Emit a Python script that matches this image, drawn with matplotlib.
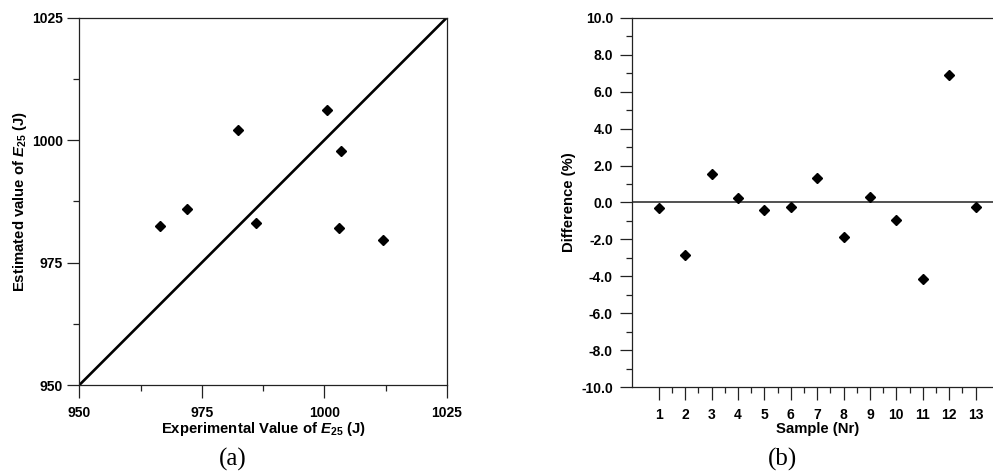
import numpy as np
import matplotlib
matplotlib.use('Agg')
import matplotlib.pyplot as plt
from matplotlib.ticker import MultipleLocator, FixedLocator, FormatStrFormatter

# panel (a): experimental vs estimated E25 (J)
exp_e25 = [966.5, 972.0, 982.4, 986.0, 1000.5, 1003.4, 1003.0, 1011.9]
est_e25 = [982.5, 985.9, 1002.1, 983.0, 1006.2, 997.8, 982.1, 979.6]

# panel (b): difference per sample (%)
samples = list(range(1, 14))
diff_pct = [-0.31, -2.84, 1.54, 0.26, -0.41, -0.23, 1.34, -1.87, 0.30, -0.96, -4.16, 6.90, -0.26]

plt.rcParams['font.family'] = ['Liberation Sans', 'DejaVu Sans']
plt.rcParams['font.weight'] = 'bold'
plt.rcParams['mathtext.fontset'] = 'custom'
plt.rcParams['mathtext.rm'] = 'Liberation Sans:bold'
plt.rcParams['mathtext.it'] = 'Liberation Sans:italic:bold'
plt.rcParams['mathtext.bf'] = 'Liberation Sans:bold'

fig = plt.figure(figsize=(9.93, 4.73), dpi=100)
ax1 = fig.add_axes([0.0799, 0.186, 0.370, 0.7766])
ax2 = fig.add_axes([0.6368, 0.1812, 0.3722, 0.7814])

def style(ax):
    for s in ax.spines.values():
        s.set_linewidth(0.9)
        s.set_color('#222222')
    ax.tick_params(which='major', direction='out', length=9, width=0.9,
                   color='#222222', labelsize=10)
    ax.tick_params(which='minor', direction='out', length=4.5, width=0.9,
                   color='#222222')
    ax.tick_params(axis='x', which='major', pad=6)
    ax.tick_params(axis='y', which='major', pad=3)

# (a)
ax1.plot([950, 1025], [950, 1025], color='black', lw=1.9)
ax1.plot(exp_e25, est_e25, 'D', color='black', ms=5.5, ls='none')
ax1.set_xlim(950, 1025)
ax1.set_ylim(950, 1025)
ax1.xaxis.set_major_locator(MultipleLocator(25))
ax1.yaxis.set_major_locator(MultipleLocator(25))
ax1.xaxis.set_minor_locator(MultipleLocator(12.5))
ax1.yaxis.set_minor_locator(MultipleLocator(12.5))
style(ax1)
ax1.set_xlabel(r'Experimental Value of $E_{25}$ (J)', fontsize=10.7, fontweight='bold', labelpad=0)
ax1.set_ylabel(r'Estimated value of $E_{25}$ (J)', fontsize=10.7, fontweight='bold', labelpad=2)

# (b)
ax2.axhline(0, color='#222222', lw=1.1)
ax2.plot(samples, diff_pct, 'D', color='black', ms=5.5, ls='none')
ax2.set_xlim(0, 14)
ax2.set_ylim(-10, 10)
ax2.xaxis.set_major_locator(FixedLocator(samples))
ax2.xaxis.set_minor_locator(FixedLocator([s + 0.5 for s in samples[:-1]]))
ax2.yaxis.set_major_locator(MultipleLocator(2))
ax2.yaxis.set_minor_locator(MultipleLocator(1))
ax2.yaxis.set_major_formatter(FormatStrFormatter('%.1f'))
style(ax2)
ax2.tick_params(axis='y', which='major', pad=5)
ax2.set_xlabel('Sample (Nr)', fontsize=10.7, fontweight='bold', labelpad=0)
ax2.set_ylabel('Difference (%)', fontsize=10.7, fontweight='bold', labelpad=4)

fig.text(0.2346, 0.004, '(a)', family='Liberation Serif', fontweight='normal',
         fontsize=18, ha='center', va='bottom')
fig.text(0.7885, 0.004, '(b)', family='Liberation Serif', fontweight='normal',
         fontsize=18, ha='center', va='bottom')

fig.savefig('out.png', dpi=100)
